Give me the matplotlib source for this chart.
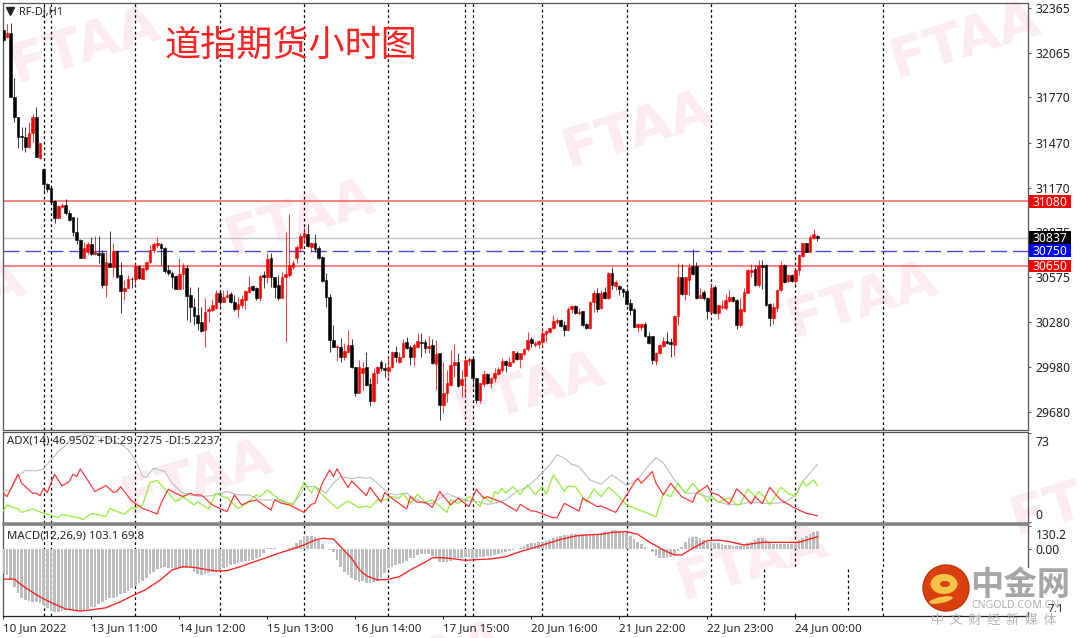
import numpy as np
import matplotlib
matplotlib.use('Agg')
import matplotlib.pyplot as plt
from matplotlib.patches import Rectangle, Circle, Ellipse
from matplotlib.transforms import Affine2D

W, H = 1080, 638
FONT = ['Noto Sans', 'DejaVu Sans']
CJK = ['Noto Sans CJK SC', 'DejaVu Sans']
plt.rcParams['font.family'] = FONT

# OHLC of the hourly candles
opens = [32219,32174,32197,31776,31643,31514,31505,31443,31532,31638,
31366,31295,31195,31167,31085,30967,31040,31056,31005,30974,
30879,30823,30701,30746,30797,30730,30739,30735,30524,30673,
30646,30752,30588,30487,30502,30566,30562,30650,30566,30628,
30679,30757,30790,30797,30772,30624,30606,30584,30500,30597,
30635,30458,30380,30325,30278,30225,30354,30358,30369,30469,
30413,30442,30464,30413,30362,30391,30424,30480,30517,30502,
30436,30591,30575,30701,30575,30524,30436,30580,30591,30646,
30701,30768,30845,30863,30779,30801,30768,30708,30557,30442,
30159,30110,30114,30043,30081,30126,29977,29809,29937,29981,
29864,29753,29937,30015,29975,29955,29981,30081,30015,30044,
30143,30110,30044,30114,30148,30148,30103,30125,29999,30070,
29727,29804,29860,29993,30015,29860,29919,30019,30030,29904,
29760,29866,29931,29871,29904,29933,29959,30019,29988,30010,
30074,30032,30066,30097,30163,30125,30132,30148,30199,30214,
30236,30281,30292,30258,30225,30362,30385,30340,30351,30263,
30236,30413,30473,30369,30478,30436,30606,30518,30518,30495,
30484,30402,30362,30247,30247,30265,30185,30185,30021,30070,
30119,30152,30143,30125,30318,30580,30464,30557,30653,30653,
30436,30480,30436,30347,30513,30336,30376,30369,30420,30442,
30424,30258,30351,30473,30611,30628,30524,30657,30657,30398,
30303,30369,30491,30657,30553,30591,30553,30624,30717,30801,
30746,30834,30852]
highs = [32219,32259,32263,31897,31643,31576,31572,31610,31660,31705,
31466,31304,31204,31167,31089,31056,31067,31093,31023,30978,
30978,30828,30812,30812,30841,30850,30850,30757,30746,30885,
30805,30752,30679,30557,30591,30580,30679,30657,30646,30679,
30790,30812,30841,30805,30779,30657,30619,30591,30701,30668,
30657,30513,30436,30513,30376,30436,30380,30429,30491,30491,
30491,30491,30480,30458,30447,30458,30491,30584,30524,30509,
30591,30619,30735,30735,30580,30591,30613,30879,30996,30690,
30790,30868,30912,30930,30812,30861,30783,30717,30602,30464,
30258,30126,30170,30136,30225,30163,29982,30026,30015,30081,
29908,29970,29986,30026,30004,30048,30088,30119,30081,30163,
30176,30125,30141,30203,30207,30163,30185,30163,30159,30074,
30015,29959,30092,30132,30070,29959,30037,30048,30030,29904,
29875,29959,29937,29915,29970,29981,30037,30026,30044,30088,
30086,30074,30103,30210,30176,30152,30159,30247,30225,30247,
30325,30303,30296,30287,30376,30391,30391,30369,30351,30269,
30420,30491,30502,30491,30509,30613,30642,30557,30524,30502,
30502,30429,30369,30269,30274,30281,30214,30185,30081,30132,
30176,30214,30170,30325,30673,30664,30575,30668,30761,30679,
30502,30491,30447,30540,30524,30391,30424,30462,30491,30451,
30429,30436,30502,30631,30664,30657,30690,30690,30662,30402,
30402,30495,30684,30662,30597,30597,30628,30730,30801,30805,
30856,30894,30856]
lows = [32141,32163,31776,31610,31432,31421,31410,31432,31477,31373,
31359,31138,31144,31078,30938,30967,31034,30989,30952,30850,
30797,30701,30701,30730,30724,30724,30668,30502,30442,30646,
30580,30568,30336,30424,30502,30502,30524,30562,30562,30619,
30668,30735,30768,30657,30602,30591,30502,30495,30495,30495,
30292,30281,30258,30225,30214,30110,30281,30354,30362,30385,
30413,30436,30407,30354,30314,30369,30362,30469,30487,30424,
30420,30502,30535,30513,30436,30424,30436,30148,30580,30628,
30668,30746,30801,30779,30746,30746,30695,30546,30376,30081,
30110,30021,30015,30026,30070,29970,29787,29804,29826,29855,
29720,29749,29875,29955,29911,29893,29970,30015,30008,30037,
30097,29993,29988,30103,30048,30074,30074,29997,29826,29627,
29676,29749,29853,29915,29849,29782,29782,29993,29849,29738,
29738,29849,29866,29842,29882,29926,29948,29948,29986,30004,
30026,29970,30059,30088,30114,30110,30103,30114,30148,30207,
30230,30265,30243,30185,30221,30336,30331,30325,30252,30230,
30232,30347,30347,30362,30429,30429,30495,30491,30458,30447,
30391,30325,30243,30214,30225,30176,30132,29999,29993,30066,
30110,30132,30048,30052,30258,30458,30424,30458,30591,30431,
30436,30424,30298,30340,30331,30298,30362,30358,30413,30413,
30232,30243,30347,30469,30580,30518,30509,30495,30385,30254,
30265,30347,30487,30540,30546,30546,30524,30591,30708,30741,
30741,30828,30819]
closes = [32152,32201,31776,31643,31510,31505,31443,31532,31643,31373,
31466,31193,31160,31078,30967,31049,31054,31005,30956,30874,
30823,30701,30768,30797,30730,30746,30724,30524,30679,30646,
30752,30575,30487,30502,30562,30562,30650,30568,30635,30679,
30757,30794,30805,30768,30619,30606,30575,30500,30597,30646,
30451,30380,30318,30274,30221,30347,30362,30391,30473,30413,
30442,30458,30413,30362,30398,30429,30487,30513,30491,30436,
30584,30580,30695,30575,30509,30436,30580,30597,30657,30668,
30779,30850,30868,30783,30805,30761,30701,30553,30442,30159,
30110,30119,30048,30088,30126,29977,29809,29982,29975,29860,
29753,29942,29977,29970,29959,29981,30081,30044,30044,30137,
30103,30044,30125,30152,30141,30103,30121,30004,30066,29727,
29809,29871,29993,30015,29853,29900,30026,30035,29904,29760,
29871,29931,29875,29908,29937,29966,30021,29993,30010,30086,
30032,30070,30099,30159,30137,30141,30152,30203,30218,30241,
30287,30292,30252,30225,30365,30385,30340,30347,30258,30236,
30413,30473,30362,30473,30436,30606,30524,30546,30495,30480,
30398,30358,30247,30263,30265,30185,30137,30026,30074,30125,
30154,30137,30132,30318,30580,30464,30575,30646,30597,30436,
30458,30436,30351,30502,30336,30391,30385,30424,30442,30420,
30258,30362,30480,30624,30624,30524,30657,30646,30391,30303,
30376,30491,30657,30546,30591,30553,30624,30724,30801,30746,
30841,30861,30837]

price_ticks = [32365,32065,31770,31470,31170,30875,30575,30280,29980,29680]
red_levels = [31080, 30650]
blue_level = 30750
last_price = 30837

# ADX panel, read at the visible vertices
adx_x = [0,2,4,6,9,11,13,15,17,19,22,25,28,33,34,36,38,39,41,44,46,49,51,54,57,59,61,64,67,70,72,75,77,79,81,82,85,88,90,92,95,
97,99,100,102,105,107,110,112,115,117,121,123,126,129,132,134,137,140,143,146,149,151,153,155,157,160,163,166,170,173,175,178,180,183,186,189,192,195,
198,201,204,207,210,213,216,218,222]
adx_y = [25.5,26.3,37.3,42.2,42,43.6,51,57.9,62.8,69.4,71.6,70.2,69.4,62,59.2,51,37.3,36.7,44.1,41.4,31.8,23.6,22.2,20.8,21.7,23.6,25,22.2,22.2,18.1,18.1,18.1,15.3,15.3,22.2,29,29,23.6,31.8,37.3,35.4,
36.7,35.9,36.7,31.8,23.6,22.2,23.6,19.5,15.3,15.3,23.6,20.8,18.1,16.7,14.5,15.3,18.1,25,29,37.3,46.9,55.1,52.4,47.4,45.5,34.5,31,38.7,29.9,34.5,42.8,52.9,48.3,34.5,23.6,23.6,20.8,16.7,
14,14.5,16.7,15.3,15.3,16.2,21.6,33.2,47]
plus_x = [0,1,4,5,8,11,15,16,19,22,24,28,29,33,35,36,38,40,42,45,47,49,52,53,56,58,60,61,64,66,69,70,72,75,79,82,84,85,87,91,94,
97,99,100,102,104,106,108,109,111,113,115,117,121,122,124,126,127,130,131,133,134,135,136,137,139,141,143,145,147,148,150,153,154,156,159,161,163,165,167,170,178,180,182,184,186,188,191,192,193,195,
198,200,201,203,205,206,208,209,212,214,216,218,219,221,222]
plus_y = [9,14,10.7,7.9,10.7,7.1,3.8,6.3,4.4,2.2,7.1,4.4,11.2,6.3,11.8,11.2,14,32.6,34,23.6,16.7,20.8,14,16.7,10.7,23.6,20.8,20,11.2,14.5,22.2,20.8,26.3,18.9,14,32.6,23.6,29,22.2,11.2,17.3,
11.8,13.1,11.8,18.1,18.1,20.8,19.5,23.6,15.3,22.7,16.2,18.1,7.9,18.1,15.3,18.9,20.8,12.6,20.8,16.2,25,23,27.7,23.6,29,22.7,30.4,22.7,29,22.7,38.7,25,29.6,29,16.2,27.1,20.8,28.5,23.6,14,4.4,23.6,20.8,31.8,23.6,31.8,20.8,16.7,21.6,16.2,
20,14,14.5,27.1,20.8,25,18.9,14,28.5,23.6,20.8,33.7,29.6,34.5,29.9]
minus_x = [0,1,4,5,8,9,10,11,12,14,16,18,19,20,21,25,28,30,31,32,35,38,42,43,45,47,49,51,52,54,57,61,63,65,67,69,73,74,76,78,82,84,85,87,89,90,91,94,95,
97,99,100,103,104,105,110,111,112,113,115,117,119,122,124,127,129,131,132,136,140,141,144,145,150,151,153,157,158,162,163,167,168,172,173,174,177,178,180,182,185,188,189,192,193,195,
198,200,202,204,205,207,209,212,216,219,222]
minus_y = [23.6,20.8,39.2,31.8,23.6,23.6,21.6,27.7,24.1,39.2,29.6,33.2,39.2,37.3,43.6,25,29.9,24.4,25,29,17.3,11.2,6.6,15.3,26.9,23.6,20.8,23.6,22.2,22.2,14,8.5,22.2,14,16.7,18.1,9.8,18.1,15.3,14,7.9,14.5,15.3,31.8,42.8,37.3,43.6,28.2,33.7,
27.7,21.6,28.5,16.2,24.1,21.6,10.7,20.8,18.1,16.2,16.2,12,25,14,19.5,12.6,26.9,19.5,20.8,16.2,9,14.5,9,9,3.5,3.5,15.3,9,19.5,12.6,13.1,7.9,12.6,31.8,35.9,31.8,41.4,31.8,22.2,31.8,20.8,16.2,23.6,29.9,24.1,22.2,
14.8,27.1,21.6,14.8,20.8,15.3,28.5,18.1,11.2,7.1,5.2]

# MACD histogram, one value per candle
macd_hist = [-139,-149,-177,-215,-254,-278,-292,-297,-301,-305,
-311,-320,-339,-355,-358,-358,-355,-349,-345,-349,
-353,-355,-349,-345,-330,-330,-317,-301,-292,-282,
-278,-273,-259,-254,-238,-225,-210,-196,-183,-164,
-145,-130,-114,-107,-105,-107,-107,-111,-111,-111,
-107,-111,-130,-143,-149,-145,-139,-130,-130,-120,
-111,-101,-92,-88,-82,-72,-69,-69,-63,-53,
-44,-25,4,8,8,2,2,2,8,13,
32,51,74,76,76,71,51,27,2,-6,
-19,-63,-101,-130,-149,-164,-177,-187,
-183,-196,-196,-187,-183,-164,-139,-111,-101,-92,
-88,-82,-69,-53,-50,-34,-31,-31,-31,-38,
-53,-72,-76,-76,-69,-57,-53,-50,-44,-46,
-50,-50,-46,-44,-42,-38,-34,-31,-25,-15,
-11,-6,0,8,19,27,32,36,38,42,
48,53,61,71,76,80,80,84,84,84,
84,84,84,84,86,90,95,99,107,107,
103,99,90,74,57,42,27,13,0,-19,
-38,-50,-53,-53,-46,-34,-11,13,38,61,
71,69,61,51,42,38,36,32,
27,23,23,19,19,19,23,32,42,51,
61,65,51,38,27,27,27,27,27,27,
32,51,65,76,84,95,103]
signal_x = [0,3,5,8,11,14,17,21,25,28,32,35,39,43,46,49,52,55,58,61,65,68,72,75,78,82,85,87,90,92,95,
97,99,102,105,108,111,115,117,120,123,126,129,133,137,141,145,148,152,156,159,163,166,170,173,176,180,183,185,188,192,195,
198,202,207,213,217,222]
signal_y = [-172,-172,-206,-248,-286,-315,-343,-355,-345,-336,-301,-269,-231,-174,-120,-101,-105,-116,-126,-124,-99,-76,-48,-25,-6,23,51,61,57,13,-54,
-116,-153,-177,-174,-158,-120,-76,-50,-50,-57,-65,-61,-57,-44,-15,9,29,55,74,80,84,95,99,84,42,-6,-34,-34,4,48,51,
42,23,38,38,38,70]

# period separators and time axis
separators = [11,13,36,59,82,105,126,128,147,170,193,216,240]
time_ticks = [0,24,48,72,96,120,144,168,192,216]
time_labels = ['10 Jun 2022','13 Jun 11:00','14 Jun 12:00','15 Jun 13:00','16 Jun 14:00',
               '17 Jun 15:00','20 Jun 16:00','21 Jun 22:00','22 Jun 23:00','24 Jun 00:00']

STEP = 3.667
X0 = 3.3
LABEL = 8.8
TXT = '#222222'
FRAME = '#555555'


def rect(l, t, r, b):
    return [l / W, 1 - b / H, (r - l) / W, (b - t) / H]


fig = plt.figure(figsize=(W / 100, H / 100), dpi=100, facecolor='white')

# watermarks sit behind everything
bg = fig.add_axes([0, 0, 1, 1], zorder=-1)
bg.set_xlim(0, W)
bg.set_ylim(H, 0)
bg.axis('off')
for cx, cy in [(85, 45), (637, 130), (965, 40), (300, 218), (530, 390), (862, 300),
               (-50, 300), (197, 478), (1085, 498), (752, 562), (430, 660)]:
    bg.text(cx, cy, 'FTAA', color='#fcebf1', fontsize=39, fontweight='bold', rotation=17,
            ha='center', va='center', family='DejaVu Sans', clip_on=True)

ax = fig.add_axes(rect(3, 3, 1028, 430), facecolor='none')
ax_adx = fig.add_axes(rect(3, 432, 1028, 523), facecolor='none', sharex=ax)
ax_macd = fig.add_axes(rect(3, 525, 1028, 616), facecolor='none', sharex=ax)

ax.set_xlim((3 - X0) / STEP, (1028 - X0) / STEP)
ax.set_ylim(29560, 32398)
ax_adx.set_ylim(-0.8, 73.8)
ax_macd.set_ylim(-383, 137)

for a in [ax, ax_adx, ax_macd]:
    for s in a.spines.values():
        s.set_color(FRAME)
        s.set_linewidth(0.9)
    a.yaxis.tick_right()
    a.tick_params(axis='y', length=2.5, width=0.7, color=FRAME, labelsize=LABEL, labelcolor=TXT, pad=3)
    a.vlines(separators, *a.get_ylim(), color='black', lw=0.9, linestyles=(0, (2.2, 2.2)), zorder=1)
    a.set_ylim(a.get_ylim())
ax_adx.spines['bottom'].set_color('#808080')
ax_adx.spines['bottom'].set_linewidth(1.8)
ax_macd.spines['top'].set_color('#808080')
ax_macd.spines['top'].set_linewidth(1.2)
ax_macd.spines['bottom'].set_color('#222222')

# price panel
ax.axhline(last_price, color='#c4c4c4', lw=1, zorder=2)
for lv in red_levels:
    ax.axhline(lv, color='#ff6060', lw=1.1, zorder=2)
ax.axhline(blue_level, color='#4a4ae8', lw=1, linestyle=(0, (11.5, 4.3)), zorder=2)

idx = np.arange(len(opens))
o = np.array(opens)
h = np.array(highs)
l = np.array(lows)
c = np.array(closes)
up = c >= o
colors = np.where(up, '#ff0000', '#000000')
ax.vlines(idx, l, h, colors=colors, lw=0.75, alpha=0.75, zorder=3)
ax.bar(idx, np.abs(c - o), bottom=np.minimum(o, c), width=0.72, color=colors,
       edgecolor=colors, linewidth=0.4, zorder=4)

ax.set_yticks(price_ticks)
ax.tick_params(axis='x', bottom=False, labelbottom=False)
ax_adx.tick_params(axis='x', bottom=False, labelbottom=False)

# coloured price tags on the right scale
for val, col in [(31080, '#ff0000'), (last_price, '#000000'), (blue_level, '#0000ff'), (30650, '#ff0000')]:
    ax.add_patch(Rectangle((1.0012, val - 43), 0.041, 86, transform=ax.get_yaxis_transform(),
                           facecolor=col, edgecolor='none', clip_on=False, zorder=6))
    ax.text(1.0047, val - 5, str(val), transform=ax.get_yaxis_transform(), color='white',
            fontsize=LABEL, va='center', ha='left', zorder=7, clip_on=False)

ax.text(16 / 1025, 0.981, 'RF-DJ,H1', transform=ax.transAxes, fontsize=7.9, color=TXT,
        va='center', ha='left', zorder=8)
ax.text(161 / 1025, 0.9, '道指期货小时图', transform=ax.transAxes, color='#ff2020', fontsize=26,
        family=CJK, va='center', ha='left', zorder=8)

# labels that hang below the top of their panel sit a little lower
drop = Affine2D().translate(0, -3)

# ADX panel
ax_adx.plot(adx_x, adx_y, color='#c0c0c0', lw=0.85, zorder=3)
ax_adx.plot(plus_x, plus_y, color='#8fee30', lw=0.85, zorder=4)
ax_adx.plot(minus_x, minus_y, color='#ff3030', lw=0.85, zorder=5)
ax_adx.set_yticks([0, 73])
ax_adx.set_yticklabels(['0', '73'])
ax_adx.get_yticklabels()[0].set_va('bottom')
ax_adx.get_yticklabels()[1].set_va('top')
ax_adx.get_yticklabels()[1].set_transform(ax_adx.get_yticklabels()[1].get_transform() + drop)
ax_adx.text(0.0035, 0.9, 'ADX(14) 46.9502 +DI:29.7275 -DI:5.2237', transform=ax_adx.transAxes,
            fontsize=8.2, color=TXT, va='center', ha='left', zorder=8)

# MACD panel
ax_macd.bar(idx, macd_hist, width=0.7, color='#bdbdbd', zorder=3)
ax_macd.plot(signal_x, signal_y, color='#ff2020', lw=0.95, zorder=4)
ax_macd.set_yticks([130.2, 0])
ax_macd.set_yticklabels(['130.2', '0.00'])
ax_macd.get_yticklabels()[0].set_va('top')
ax_macd.get_yticklabels()[0].set_transform(ax_macd.get_yticklabels()[0].get_transform() + drop)
ax_macd.text(0.0035, 0.88, 'MACD(12,26,9) 103.1 69.8', transform=ax_macd.transAxes,
             fontsize=8.2, color=TXT, va='center', ha='left', zorder=8)
ax_macd.set_xticks(time_ticks)
ax_macd.set_xticklabels(time_labels, ha='left', fontsize=8.3, color=TXT)
ax_macd.tick_params(axis='x', length=2.5, width=0.7, color='#222222', pad=2.5)

# pasted logo block in the bottom right corner
top = fig.add_axes([0, 0, 1, 1], zorder=10, facecolor='none')
top.set_xlim(0, W)
top.set_ylim(H, 0)
top.axis('off')
top.add_patch(Rectangle((763, 568), 320, 44, facecolor='white', edgecolor='none'))
top.vlines([764, 848, 882], 569, 612, color='black', lw=0.9, linestyles=(0, (2.2, 2.2)))
top.plot([10], [11], marker='v', ms=6, color='#222222')
top.add_patch(Circle((946, 588), 23, facecolor='#d9400f', edgecolor='#c8320c', lw=1))
top.add_patch(Ellipse((944, 584), 27, 20, facecolor='#f6c24a', edgecolor='none'))
top.add_patch(Ellipse((945, 584), 10, 6, facecolor='#d9400f', edgecolor='none'))
top.add_patch(Ellipse((941, 600), 24, 6, angle=-12, facecolor='#f6c24a', edgecolor='none'))
top.text(1020, 585, '中金网', family=CJK, fontsize=24, fontweight='bold', color='#a6a6a6', ha='center', va='center')
top.text(1015, 606, 'CNGOLD.COM.CN', fontsize=7.6, color='#b0b0b0', ha='center', va='center')
top.text(1056, 609, '7.1', fontsize=8.3, color=TXT, ha='center', va='center')
top.text(994, 620, '中  文  财  经  新  媒  体', family=CJK, fontsize=9.4, color='#b4b4b4', ha='center', va='center')

fig.savefig('out.png', dpi=100)
